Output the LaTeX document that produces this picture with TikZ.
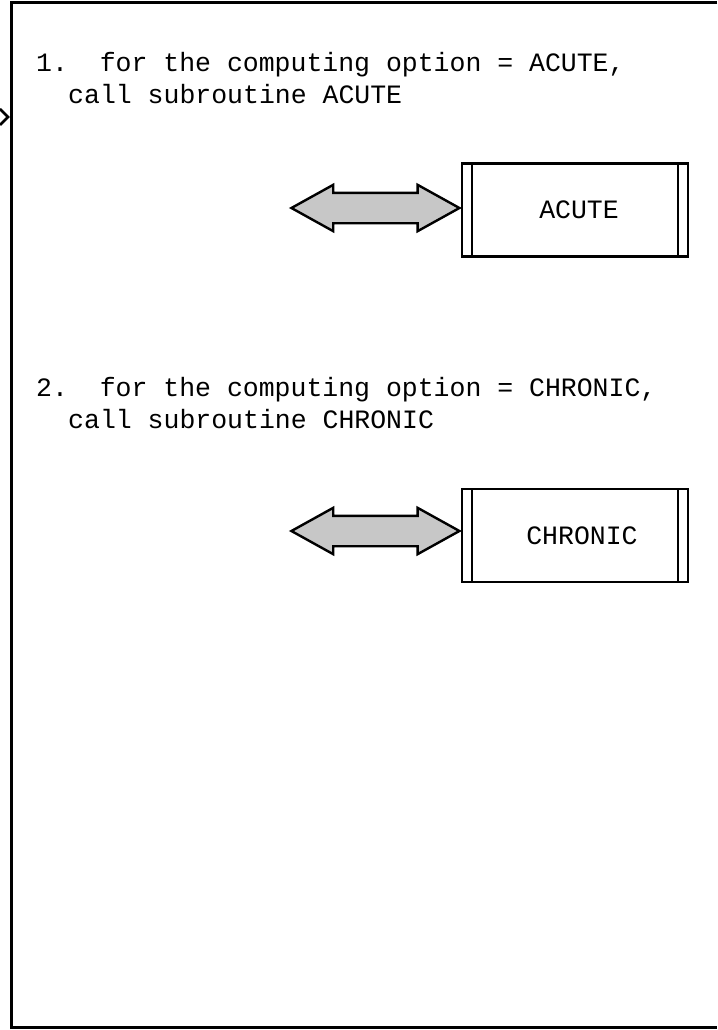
\documentclass[tikz,border=0pt]{standalone}
\usepackage{fontspec}
\setmonofont{Liberation Mono}
\usetikzlibrary{shapes.arrows,positioning}

\tikzset{
  optline/.style={anchor=base west, inner sep=0, font=\ttfamily\fontsize{26.5}{32}\selectfont},
  subbox/.style={draw, line width=2.2, minimum width=226, minimum height=93, inner sep=0,
    font=\ttfamily\fontsize{26.5}{32}\selectfont,
    path picture={
      \draw[line width=1.8] ([xshift=10]path picture bounding box.north west) -- ([xshift=10]path picture bounding box.south west);
      \draw[line width=1.8] ([xshift=-10]path picture bounding box.north east) -- ([xshift=-10]path picture bounding box.south east);
    }},
  dblarrow/.style={double arrow, draw, line width=2.4, fill=black!22, inner sep=14,
    minimum height=168, double arrow head extend=8, double arrow tip angle=58}
}

\begin{document}
\begin{tikzpicture}[x=1pt,y=-1pt]
\useasboundingbox (0,0) rectangle (717,1030);
%\draw[help lines] (0,0) grid[step=50] (717,1030);
\draw[line width=3] (717,3) -- (11,3) -- (11,1027) -- (717,1027);
\draw[line width=2.5] (0,109) -- (8,117) -- (0,125);

% option 1
\node[optline] (opt1a) at (36,72) {1.~~for the computing option = ACUTE,};
\node[optline] (opt1b) at (68,104) {call subroutine ACUTE};
\node[subbox] (acute) at (575,210) {\hspace*{8pt}ACUTE};
\node[dblarrow, left=-1pt of acute, yshift=2] (link1) {};

% option 2
\node[optline] (opt2a) at (36,396) {2.~~for the computing option = CHRONIC,};
\node[optline] (opt2b) at (68,428) {call subroutine CHRONIC};
\node[subbox] (chronic) at (575,535.5) {\hspace*{14pt}CHRONIC};
\node[dblarrow, left=-1pt of chronic, yshift=4.5] (link2) {};
\end{tikzpicture}
\end{document}
